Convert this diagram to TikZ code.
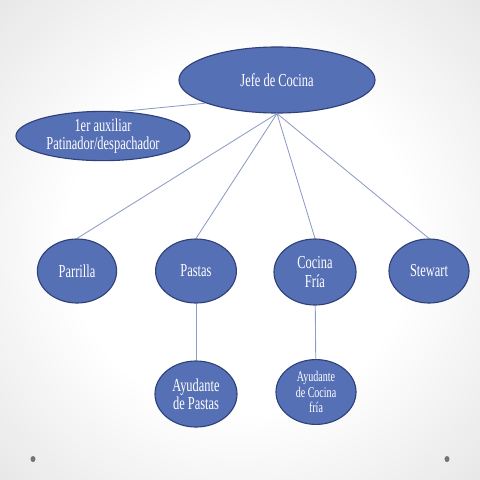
\documentclass[tikz,border=0pt]{standalone}
\usepackage{fontspec}
\setmainfont{Liberation Serif}[FakeStretch=0.68]
\usetikzlibrary{shapes.geometric}

\definecolor{puestofill}{HTML}{5670B5}
\definecolor{puestoborde}{HTML}{2F417A}
\definecolor{linea}{HTML}{8E9CC6}
\pgfdeclareradialshading{fondo}{\pgfpoint{0bp}{0bp}}{color(0bp)=(white); color(18bp)=(white); color(50bp)=(black!17); color(72bp)=(black!26)}

\begin{document}
\begin{tikzpicture}[x=0.025cm, y=-0.025cm]

\tikzstyle{every node}=[font=\fontsize{13}{13}\selectfont]
\tikzstyle{puesto}=[ellipse, draw=puestoborde, line width=0.8pt, fill=puestofill, text=white, align=center, inner sep=0pt]
\tikzstyle{rama}=[draw=linea, line width=0.6pt]

\shade[shading=fondo] (0,0) rectangle (480,480);
\useasboundingbox (0,0) rectangle (480,480);

\node[puesto, minimum width=4.9cm, minimum height=1.65cm] (jefe) at (277, 80) {Jefe de Cocina};

\node[puesto, minimum width=4.35cm, minimum height=1.18cm] (auxiliar) at (103, 136) {1er auxiliar\\ Patinador/despachador};

\draw[rama] (jefe.198) -- (auxiliar.52);

\pgfmathsetmacro\y{271}
\node[puesto, minimum width=1.98cm, minimum height=1.6cm] (parrilla) at (77, \y) {Parrilla};
\node[puesto, minimum width=2.02cm, minimum height=1.6cm] (pastas) at (196, \y) {Pastas};
\node[puesto, minimum width=2.05cm, minimum height=1.65cm] (fria) at (315, \y + 1) {Cocina\\ Fría};
\node[puesto, minimum width=2cm, minimum height=1.6cm] (stewart) at (429, \y) {Stewart};

\draw[rama] (jefe.south) -- (parrilla.north);
\draw[rama] (jefe.south) -- (pastas.north);
\draw[rama] (jefe.south) -- (fria.north);
\draw[rama] (jefe.south) -- (stewart.north);

\pgfmathsetmacro\y{\y+123}
\node[puesto, minimum width=2.05cm, minimum height=1.65cm] (ayudante_pastas) at (196, \y) {Ayudante\\ de Pastas};
\node[puesto, minimum width=2cm, minimum height=1.62cm, font=\fontsize{10.5}{10.8}\selectfont] (ayudante_fria) at (316, \y - 2) {Ayudante\\ de Cocina\\ fría};

\draw[rama] (pastas) -- (ayudante_pastas);
\draw[rama] (fria) -- (ayudante_fria);

% bullets at the foot of the page
\fill[black!55] (33, 459) circle [x radius=2.5, y radius=3];
\fill[black!55] (447, 459) circle [x radius=2.5, y radius=3];

\end{tikzpicture}
\end{document}
